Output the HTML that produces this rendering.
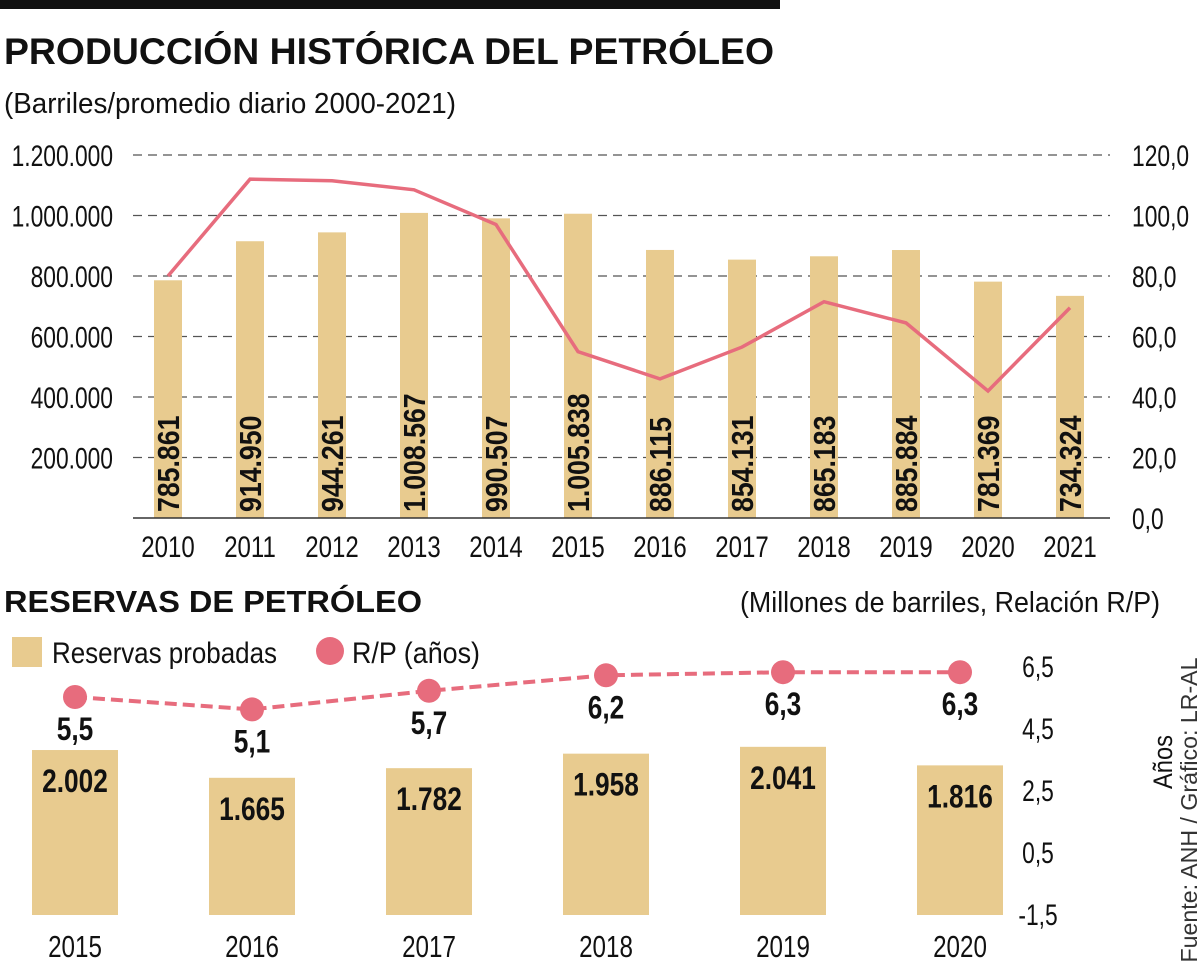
<!DOCTYPE html>
<html><head><meta charset="utf-8"><style>
body{margin:0;background:#fff;width:1200px;height:965px;overflow:hidden}
svg{display:block;font-family:"Liberation Sans Narrow","Liberation Sans",sans-serif}
</style></head><body>
<svg id="c" width="1200" height="965">
<rect x="0" y="0" width="780" height="9" fill="#111"/>
<text x="4" y="64" font-size="37" font-weight="bold" fill="#111" textLength="770" lengthAdjust="spacingAndGlyphs">PRODUCCIÓN HISTÓRICA DEL PETRÓLEO</text>
<text x="4" y="113" font-size="29" fill="#111" textLength="452" lengthAdjust="spacingAndGlyphs">(Barriles/promedio diario 2000-2021)</text>
<text x="4" y="612" font-size="31" font-weight="bold" fill="#111" textLength="418" lengthAdjust="spacingAndGlyphs">RESERVAS DE PETRÓLEO</text>
<text x="1160" y="612" font-size="29" fill="#111" text-anchor="end" textLength="420" lengthAdjust="spacingAndGlyphs">(Millones de barriles, Relación R/P)</text>
<rect x="12" y="637" width="30" height="30" fill="#e8cb8f"/>
<text x="52" y="663" font-size="30" fill="#111" textLength="225" lengthAdjust="spacingAndGlyphs">Reservas probadas</text>
<circle cx="330" cy="651" r="14" fill="#e76c7d"/>
<text x="352" y="663" font-size="30" fill="#111" textLength="128" lengthAdjust="spacingAndGlyphs">R/P (años)</text>
<text transform="translate(1172,762) rotate(-90)" font-size="27" fill="#111" text-anchor="middle" textLength="54" lengthAdjust="spacingAndGlyphs">Años</text>
<text transform="translate(1197,810) rotate(-90)" font-size="23" fill="#333" text-anchor="middle" textLength="305" lengthAdjust="spacingAndGlyphs">Fuente: ANH / Gráfico: LR-AL</text>
</svg>
<script>
const years1=["2010","2011","2012","2013","2014","2015","2016","2017","2018","2019","2020","2021"];
const produccion=[785861,914950,944261,1008567,990507,1005838,886115,854131,865183,885884,781369,734324];
const produccionLabels=["785.861","914.950","944.261","1.008.567","990.507","1.005.838","886.115","854.131","865.183","885.884","781.369","734.324"];
const ratio1=[80,112,111.5,108.5,97,55,46,56.5,71.5,64.5,42,69.5];
const leftTicks=[0,200000,400000,600000,800000,1000000,1200000];
const leftTickLabels=["","200.000","400.000","600.000","800.000","1.000.000","1.200.000"];
const rightTicks=[0,20,40,60,80,100,120];
const rightTickLabels=["0,0","20,0","40,0","60,0","80,0","100,0","120,0"];
const years2=["2015","2016","2017","2018","2019","2020"];
const reservas=[2002,1665,1782,1958,2041,1816];
const reservasLabels=["2.002","1.665","1.782","1.958","2.041","1.816"];
const rp=[5.5,5.1,5.7,6.2,6.3,6.3];
const rpLabels=["5,5","5,1","5,7","6,2","6,3","6,3"];
const rpTicks=[-1.5,0.5,2.5,4.5,6.5];
const rpTickLabels=["-1,5","0,5","2,5","4,5","6,5"];

const svg=document.getElementById('c');const NS="http://www.w3.org/2000/svg";
function mk(t,a,txt){const e=document.createElementNS(NS,t);for(const k in a)e.setAttribute(k,a[k]);if(txt!==undefined)e.textContent=txt;svg.appendChild(e);return e;}
function squeeze(e,r){const w=e.getComputedTextLength();e.setAttribute('textLength',(w*r).toFixed(1));e.setAttribute('lengthAdjust','spacingAndGlyphs');}
const x1=i=>168+i*82;
const yL=v=>518-v/1200000*363;
const yR=v=>518-v/120*363;
for(let i=0;i<leftTicks.length;i++){
 const y=yL(leftTicks[i]);
 if(leftTicks[i]>0){const g=mk('line',{x1:133,x2:1110,y1:y,y2:y,stroke:'#555','stroke-width':1.3,'stroke-dasharray':'9,6'});
 
 }
 const t=mk('text',{x:113,y:y+11,'font-size':30,fill:'#111','text-anchor':'end'},leftTickLabels[i]);
 
 
 squeeze(t,0.76);
}
for(let i=0;i<rightTicks.length;i++){
 const t=mk('text',{x:1132,y:yR(rightTicks[i])+11,'font-size':30,fill:'#111'},rightTickLabels[i]);
 
 
 squeeze(t,0.76);
}
for(let i=0;i<years1.length;i++){
 const b=mk('rect',{x:x1(i)-14,y:yL(produccion[i]),width:28,height:518-yL(produccion[i]),fill:'#e8cb8f'});
 
 
 const t=mk('text',{transform:`translate(${x1(i)+11},512) rotate(-90)`,'font-size':31,'font-weight':'bold',fill:'#111'},produccionLabels[i]);
 
 
 squeeze(t,0.86);
 const yl=mk('text',{x:x1(i),y:557,'font-size':30,fill:'#111','text-anchor':'middle'},years1[i]);
 
 
 squeeze(yl,0.8);
}
const ax=mk('line',{x1:133,x2:1110,y1:518,y2:518,stroke:'#333','stroke-width':1.5});


const pl=mk('polyline',{points:ratio1.map((v,i)=>x1(i)+','+yR(v)).join(' '),fill:'none',stroke:'#e76c7d','stroke-width':3.5});


const x2=i=>75+i*177;
const yB=v=>915-v*0.0824;
const yP=v=>666+(6.5-v)*31;
for(let i=0;i<rpTicks.length;i++){
 const t=mk('text',{x:1038,y:yP(rpTicks[i])+11,'font-size':30,fill:'#111','text-anchor':'middle'},rpTickLabels[i]);
 
 
 squeeze(t,0.76);
}
for(let i=0;i<years2.length;i++){
 const b=mk('rect',{x:x2(i)-43,y:yB(reservas[i]),width:86,height:915-yB(reservas[i]),fill:'#e8cb8f'});
 
 
 const t=mk('text',{x:x2(i),y:yB(reservas[i])+42,'font-size':32,'font-weight':'bold',fill:'#111','text-anchor':'middle'},reservasLabels[i]);
 
 
 squeeze(t,0.82);
 const yl=mk('text',{x:x2(i),y:957,'font-size':31,fill:'#111','text-anchor':'middle'},years2[i]);
 
 
 squeeze(yl,0.78);
}
const dl=mk('polyline',{points:rp.map((v,i)=>x2(i)+','+yP(v)).join(' '),fill:'none',stroke:'#e76c7d','stroke-width':4,'stroke-dasharray':'12,6'});


for(let i=0;i<rp.length;i++){
 const c=mk('circle',{cx:x2(i),cy:yP(rp[i]),r:12,fill:'#e76c7d'});
 
 
 const t=mk('text',{x:x2(i),y:yP(rp[i])+43,'font-size':32,'font-weight':'bold',fill:'#111','text-anchor':'middle'},rpLabels[i]);
 
 
 squeeze(t,0.82);
}
</script>
</body></html>
